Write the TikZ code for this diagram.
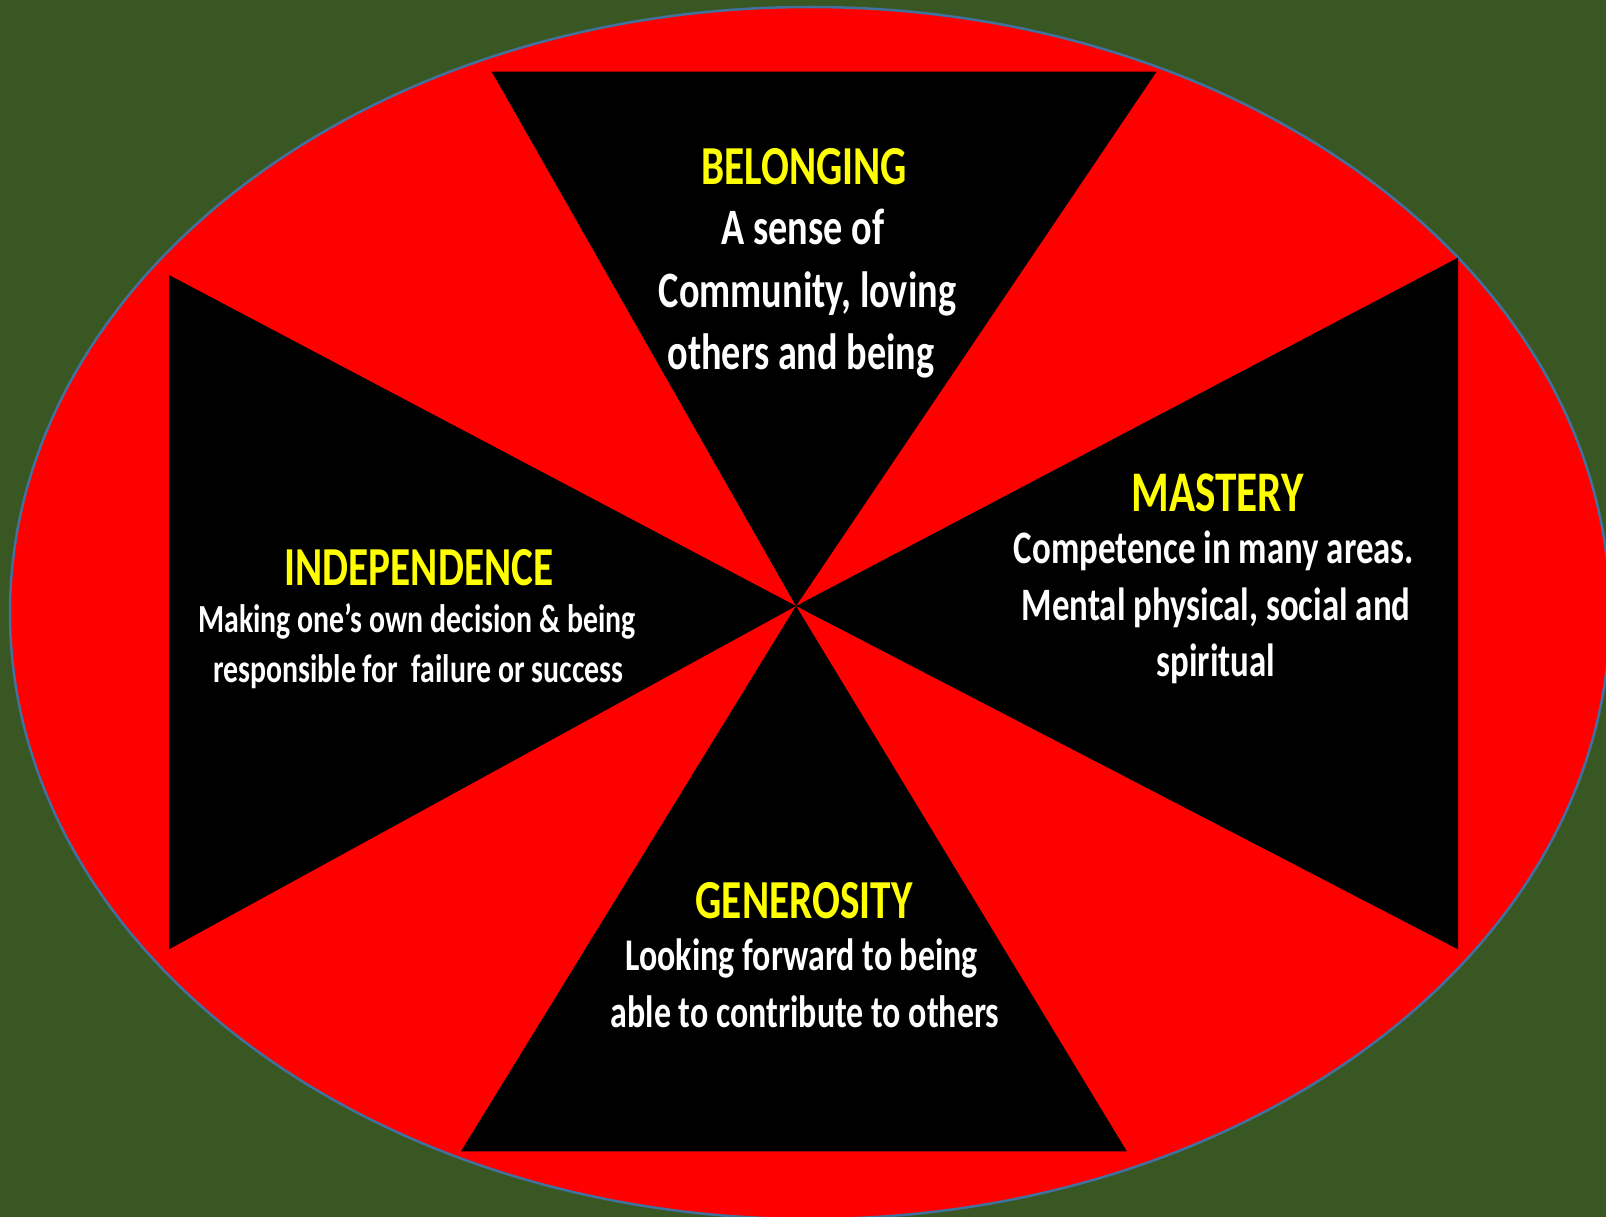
\documentclass[tikz,border=0pt]{standalone}
\usepackage{fontspec}
\setmainfont{Carlito}[FakeStretch=0.75]
\definecolor{bggreen}{HTML}{385723}
\definecolor{ringblue}{HTML}{41719C}
\definecolor{titleyellow}{HTML}{FFFF00}
\tikzset{
  wedge/.style={fill=black},
  ttl/.style={text=titleyellow,anchor=base,inner sep=0pt,font=\bfseries\fontsize{55}{66}\selectfont},
  bodyA/.style={text=white,anchor=base,inner sep=0pt,font=\bfseries\fontsize{51}{62}\selectfont},
  bodyB/.style={text=white,anchor=base,inner sep=0pt,font=\bfseries\fontsize{46.5}{56}\selectfont},
  bodyG/.style={text=white,anchor=base,inner sep=0pt,font=\bfseries\fontsize{45.3}{56}\selectfont},
  bodyC/.style={text=white,anchor=base,inner sep=0pt,font=\bfseries\fontsize{39.8}{46}\selectfont},
}
\begin{document}
\begin{tikzpicture}[x=1pt,y=-1pt]
\fill[bggreen] (0,0) rectangle (1606,1217);
\useasboundingbox (0,0) rectangle (1606,1217);
\begin{scope}
\clip (0,0) rectangle (1606,1217);
\fill[red] (810,613) ellipse [x radius=800, y radius=606];
\draw[ringblue,line width=2.5pt] (810,613) ellipse [x radius=800, y radius=606];
\end{scope}
\coordinate (c) at (796,606);
\coordinate (t1) at (491.7,71.7);
\coordinate (t2) at (1156.5,71.7);
\coordinate (l1) at (169,275);
\coordinate (l2) at (169,949.3);
\coordinate (r1) at (1458,257.7);
\coordinate (r2) at (1458,949.3);
\coordinate (g1) at (461,1151.3);
\coordinate (g2) at (1126.8,1151.3);
\fill[wedge] (c) -- (t1) -- (t2) -- cycle;
\fill[wedge] (c) -- (l1) -- (l2) -- cycle;
\fill[wedge] (c) -- (r1) -- (r2) -- cycle;
\fill[wedge] (c) -- (g1) -- (g2) -- cycle;
% Belonging
\node[ttl] (bt) at (804,185) {BELONGING};
\node[bodyA] (b1) at (803,244) {A sense of};
\node[bodyA] (b2) at (807.5,307) {Community, loving};
\node[bodyA] (b3) at (801,369) {others and being};
% Mastery
\node[ttl,font=\bfseries\fontsize{57.5}{66}\selectfont] (mt) at (1217.5,511) {MASTERY};
\node[bodyB] (m1) at (1214,563) {Competence in many areas.};
\node[bodyB] (m2) at (1216,620) {Mental physical, social and};
\node[bodyB] (m3) at (1216,676) {spiritual};
% Independence
\node[ttl] (it) at (419,585) {INDEPENDENCE};
\node[bodyC] (i1) at (417,632) {Making one’s own decision \& being};
\node[bodyC] (i2) at (418.3,682.5) {responsible for\ \ failure or success};
% Generosity
\node[ttl] (gt) at (804,918) {GENEROSITY};
\node[bodyG] (g1t) at (801.7,970) {Looking forward to being};
\node[bodyG] (g2t) at (805,1027) {able to contribute to others};
\end{tikzpicture}
\end{document}
